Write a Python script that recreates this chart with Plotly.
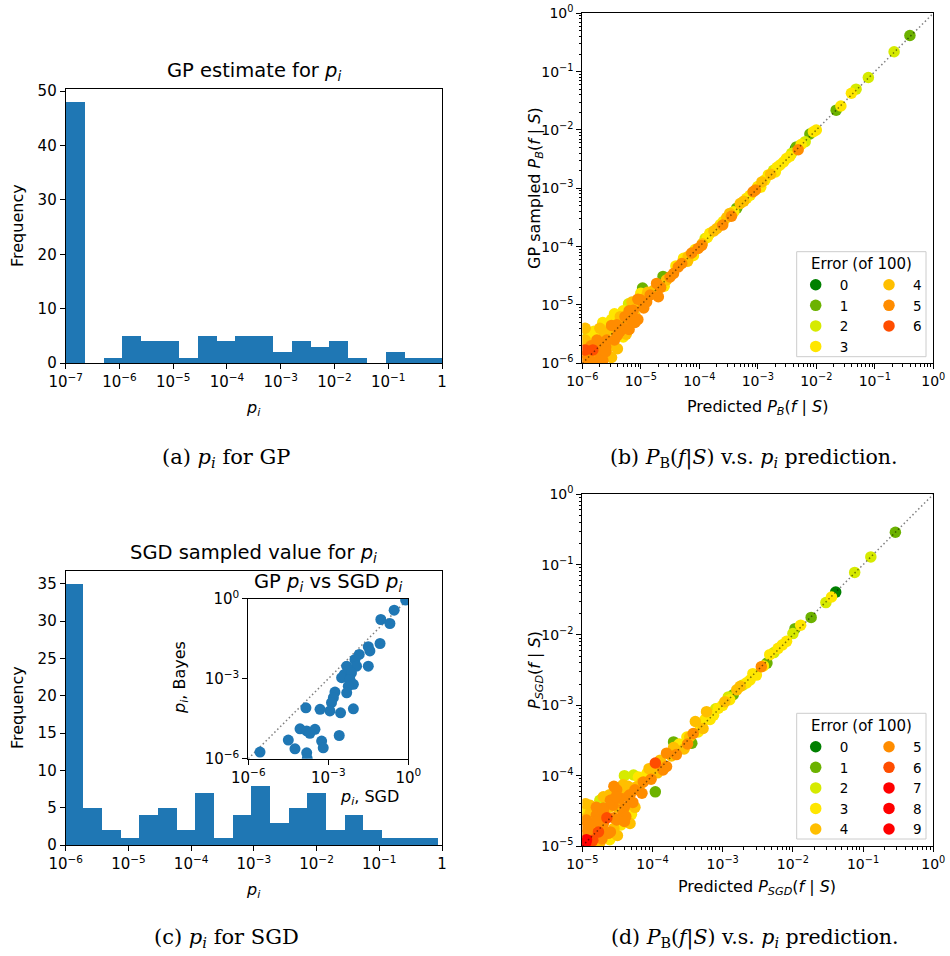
import numpy as np
import plotly.graph_objects as go

W, H = 950, 956

# ---------------- data ----------------
# (a) histogram of GP estimate for p_i (20 log-spaced bins, 1e-7 .. 1)
a_edges_log10 = np.linspace(-7.0, 0.0, 21)
a_counts = [48, 0, 1, 5, 4, 4, 1, 5, 4, 5, 5, 2, 4, 3, 4, 1, 0, 2, 1, 1]

# (c) histogram of SGD sampled p_i (20 log-spaced bins)
c_edges_log10 = np.linspace(-6.02, -0.07, 21)
c_counts = [35, 5, 2, 1, 4, 5, 2, 7, 1, 4, 8, 3, 5, 7, 2, 4, 2, 1, 1, 1]

# inset: GP p_i vs SGD p_i (log10 values)
inset_sgd_log10 = [-5.56, -0.10, -0.53, -1.03, -0.69, -1.06, -1.50, -1.44, -1.84, -2.00,
                   -1.94, -1.50, -2.31, -2.40, -2.13, -2.50, -2.19, -2.06, -2.25, -2.31,
                   -2.75, -2.81, -2.88, -2.94, -3.31, -3.84, -2.54, -2.06, -4.06, -3.81,
                   -3.50, -3.69, -3.25, -3.19, -2.59, -4.50, -4.25, -3.81, -3.79]
inset_bayes_log10 = [-5.75, -0.05, -0.43, -0.78, -0.93, -1.68, -1.80, -1.96, -2.09, -2.28,
                     -2.53, -2.53, -2.53, -2.84, -2.78, -2.96, -3.03, -3.21, -3.28, -3.53,
                     -3.50, -3.71, -3.90, -4.21, -4.15, -4.09, -4.28, -4.13, -4.88, -4.96,
                     -4.90, -5.05, -5.34, -5.59, -5.13, -5.30, -5.63, -5.78, -6.00]

# (b) GP sampled P_B vs predicted (log10) with error counts
b_pred_log10 = [-0.40, -0.67, -1.11, -1.32, -1.40, -1.66, -1.58, -2.05, -2.11, -2.19,
                -2.34, -2.36, -2.31, -2.51, -2.62, -2.73, -2.82, -2.93, -3.08, -3.19,
                -3.36, -3.30, -3.48, -3.59, -3.70, -3.82, -3.90, -4.02, -4.13, -4.27,
                -4.30, -4.44, -4.56, -4.62, -4.70, -4.73, -4.97, -4.84, -5.01, -5.21,
                -5.13, -5.27, -5.36, -5.41, -5.53, -5.64, -5.75, -5.90, -5.95, -5.82,
                -5.70, -5.87, -5.98, -5.53, -5.36, -5.45, -5.60, -5.25, -5.10, -4.95,
                -5.70, -5.50, -5.62, -5.80, -5.95, -4.60, -4.10, -3.95, -3.60, -2.95,
                -2.70, -2.45, -4.88,
                -2.00, -2.26, -2.42, -2.56, -2.67, -2.78, -2.88, -3.00, -3.04, -3.13,
                -3.24, -3.41, -3.53, -3.64, -3.75, -3.86, -3.96, -4.07, -4.19, -4.36,
                -4.50, -4.66, -4.78, -4.90, -5.05, -5.18, -5.30, -5.40, -5.47, -5.58,
                -5.70, -5.75, -5.85, -5.92, -5.80, -5.65, -5.40, -5.30, -5.20, -5.05,
                -5.00, -5.15, -5.30, -5.50, -5.70, -5.85, -5.95, -4.40, -4.20, -3.45,
                -5.50, -5.35, -5.20, -5.05, -4.90, -5.65, -5.45, -5.60, -5.25, -5.10]
b_samp_log10 = [-0.38, -0.66, -1.10, -1.30, -1.37, -1.66, -1.59, -2.03, -2.07, -2.20,
                -2.29, -2.33, -2.34, -2.49, -2.60, -2.69, -2.77, -2.89, -3.06, -3.17,
                -3.34, -3.26, -3.43, -3.57, -3.69, -3.77, -3.86, -4.03, -4.11, -4.20,
                -4.29, -4.46, -4.57, -4.51, -4.86, -4.63, -4.71, -4.83, -4.91, -4.98,
                -5.09, -5.20, -5.26, -5.34, -5.43, -5.51, -5.60, -5.51, -5.77, -5.77,
                -5.83, -5.94, -5.97, -5.71, -5.46, -5.60, -5.72, -5.35, -5.18, -5.05,
                -5.95, -5.90, -5.48, -5.45, -5.60, -4.68, -4.15, -3.95, -3.63, -2.98,
                -2.72, -2.45, -4.78,
                -2.00, -2.25, -2.40, -2.55, -2.64, -2.76, -2.86, -2.97, -3.03, -3.12,
                -3.22, -3.40, -3.50, -3.62, -3.73, -3.84, -3.98, -4.05, -4.17, -4.35,
                -4.52, -4.70, -4.75, -4.95, -5.00, -5.25, -5.40, -5.52, -5.38, -5.60,
                -5.68, -5.85, -5.70, -5.85, -5.98, -5.95, -5.75, -5.55, -5.42, -5.25,
                -4.80, -4.95, -5.10, -5.25, -5.40, -5.55, -5.40, -4.33, -4.25, -3.48,
                -5.35, -5.20, -5.10, -4.90, -4.85, -5.30, -5.15, -5.80, -5.50, -5.30]
b_err = [1, 2, 2, 2, 3, 1, 3, 3, 1, 2,
         1, 0, 5, 3, 3, 2, 3, 4, 5, 3,
         1, 4, 4, 3, 4, 3, 2, 5, 5, 3,
         5, 5, 4, 1, 5, 5, 1, 5, 5, 2,
         5, 5, 3, 5, 4, 3, 5, 2, 6, 6,
         5, 5, 5, 4, 5, 5, 5, 4, 4, 5,
         3, 4, 4, 3, 4, 3, 3, 4, 5, 3,
         3, 3, 4,
         3, 3, 2, 3, 3, 4, 3, 3, 5, 3,
         4, 3, 4, 3, 4, 3, 5, 3, 4, 5,
         5, 5, 4, 5, 4, 5, 5, 5, 3, 5,
         5, 4, 5, 5, 5, 5, 4, 3, 5, 5,
         3, 4, 3, 3, 4, 3, 4, 3, 4, 5,
         5, 4, 5, 5, 4, 3, 3, 5, 4, 5]

# (d) SGD P vs predicted (log10) with error counts
d_pred_log10 = [-0.54, -0.89, -1.12, -1.39, -1.45, -1.53, -1.74, -1.89, -1.97, -2.00,
                -2.09, -2.21, -2.33, -2.37, -2.45, -2.52, -2.61, -2.71, -2.80, -2.85,
                -2.92, -2.97, -3.06, -3.23, -3.13, -3.39, -3.32, -3.42, -3.44, -3.51,
                -3.70, -3.58, -3.80, -3.89, -3.96, -3.80, -3.99, -4.08, -4.27, -3.96,
                -4.13, -4.23, -4.42, -4.32, -4.46, -4.61, -4.56, -4.75, -4.70, -4.80,
                -4.77, -4.89, -4.94, -4.94, -4.96, -4.63, -4.51, -4.42, -4.32, -4.61,
                -4.70, -4.84, -4.65, -4.51, -4.89, -4.95, -4.97,
                -2.15, -2.27, -2.42, -2.57, -2.66, -2.75, -2.90, -3.00, -3.10, -3.18,
                -3.28, -3.35, -3.47, -3.55, -3.62, -3.66, -3.73, -3.85, -3.93, -4.02,
                -4.05, -4.15, -4.20, -4.28, -4.35, -4.40, -4.50, -4.55, -4.60, -4.68,
                -4.72, -4.80, -4.85, -4.90, -4.98, -4.88, -4.75, -4.55, -4.45, -4.38,
                -4.25, -4.95, -4.98, -4.80, -4.70, -4.55, -4.40, -4.65, -4.85,
                -4.90, -4.82, -4.70, -4.62, -4.52, -4.45, -4.35, -4.25, -4.15, -4.60,
                -4.50, -4.40, -4.30, -4.72, -4.95, -3.70, -3.50, -3.25]
d_sgd_log10 = [-0.54, -0.89, -1.11, -1.39, -1.46, -1.54, -1.75, -1.86, -1.91, -1.98,
               -2.09, -2.19, -2.28, -2.40, -2.45, -2.57, -2.64, -2.71, -2.78, -2.85,
               -2.88, -2.95, -3.04, -3.09, -3.14, -3.23, -3.28, -3.40, -3.54, -3.45,
               -3.52, -3.59, -3.68, -3.78, -3.82, -3.87, -3.92, -3.97, -3.99, -4.23,
               -4.09, -4.16, -4.13, -4.27, -4.32, -4.27, -4.42, -4.35, -4.46, -4.56,
               -4.80, -4.54, -4.63, -4.91, -4.73, -4.82, -4.63, -4.54, -4.68, -4.91,
               -4.68, -4.87, -4.46, -4.20, -4.42, -4.95, -4.97,
               -2.14, -2.25, -2.44, -2.55, -2.68, -2.73, -2.92, -3.00, -3.05, -3.20,
               -3.33, -3.38, -3.45, -3.62, -3.55, -3.70, -3.72, -3.92, -3.96, -4.05,
               -3.90, -4.25, -4.02, -4.38, -4.15, -4.45, -4.45, -4.60, -4.35, -4.55,
               -4.72, -4.65, -4.75, -4.80, -4.85, -4.98, -4.95, -4.75, -4.70, -4.58,
               -4.45, -4.50, -4.62, -4.45, -4.30, -4.15, -4.00, -4.60, -4.92,
               -4.70, -4.60, -4.50, -4.45, -4.30, -4.25, -4.30, -4.20, -4.10, -4.80,
               -4.85, -4.65, -4.55, -4.90, -4.40, -3.60, -3.55, -3.20]
d_err = [1, 2, 2, 0, 3, 2, 1, 3, 1, 2,
         3, 3, 3, 1, 5, 3, 3, 2, 4, 1,
         2, 4, 3, 4, 3, 4, 3, 5, 1, 3,
         1, 3, 5, 4, 6, 5, 4, 3, 2, 1,
         5, 4, 4, 5, 5, 4, 5, 2, 5, 5,
         6, 4, 5, 7, 5, 5, 5, 5, 4, 3,
         5, 5, 4, 5, 4, 8, 9,
         3, 2, 3, 3, 3, 4, 3, 3, 2, 3,
         4, 3, 4, 4, 3, 5, 4, 5, 4, 5,
         4, 5, 3, 5, 4, 5, 4, 5, 5, 4,
         5, 5, 4, 5, 5, 5, 4, 4, 3, 5,
         4, 3, 4, 5, 4, 5, 2, 6, 6,
         5, 4, 5, 4, 5, 4, 5, 5, 4, 5,
         4, 5, 3, 5, 4, 4, 5, 3]

err_colors = ['#008000', '#6cb200', '#d6ea00', '#ffe600', '#ffbf00',
              '#ff8c00', '#ff4d00', '#ff0000', '#ff0000', '#ff0000']

# ---------------- helpers ----------------
def fx(px):
    return px / W


def fy(py):
    return 1 - py / H


SANS = 'DejaVu Sans'
SERIF = 'DejaVu Serif'
BLUE = '#1f77b4'
DIAG = dict(color='rgba(0,0,0,0.5)', dash='1.5px,2.6px', width=1.5)

fig = go.Figure()

# (a) histogram
a_centers = (a_edges_log10[:-1] + a_edges_log10[1:]) / 2
fig.add_trace(go.Bar(x=a_centers, y=a_counts, width=np.diff(a_edges_log10),
                     marker=dict(color=BLUE, line=dict(width=0)),
                     showlegend=False, xaxis='x', yaxis='y'))

# (c) histogram
c_centers = (c_edges_log10[:-1] + c_edges_log10[1:]) / 2
fig.add_trace(go.Bar(x=c_centers, y=c_counts, width=np.diff(c_edges_log10),
                     marker=dict(color=BLUE, line=dict(width=0)),
                     showlegend=False, xaxis='x3', yaxis='y3'))

# inset scatter
fig.add_trace(go.Scatter(x=[1e-6, 1], y=[1e-6, 1], mode='lines', line=DIAG,
                         showlegend=False, xaxis='x5', yaxis='y5', hoverinfo='skip'))
fig.add_trace(go.Scatter(x=10 ** np.array(inset_sgd_log10), y=10 ** np.array(inset_bayes_log10),
                         mode='markers', marker=dict(color=BLUE, size=11, line=dict(width=0)),
                         showlegend=False, xaxis='x5', yaxis='y5'))


def add_err_scatter(pred, meas, errs, xa, ya, nerr, split, leg_a, leg_b):
    pred = np.array(pred)
    meas = np.array(meas)
    errs = np.array(errs)
    for e in range(nerr):
        m = errs == e
        fig.add_trace(go.Scatter(
            x=10 ** pred[m], y=10 ** meas[m], mode='markers', name=str(e),
            marker=dict(color=err_colors[e], size=11.5, line=dict(width=0)),
            legend=leg_a if e <= split else leg_b, xaxis=xa, yaxis=ya))


add_err_scatter(b_pred_log10, b_samp_log10, b_err, 'x2', 'y2', 7, 3, 'legend', 'legend2')
fig.add_trace(go.Scatter(x=[1e-6, 1], y=[1e-6, 1], mode='lines', line=DIAG,
                         showlegend=False, xaxis='x2', yaxis='y2', hoverinfo='skip'))

add_err_scatter(d_pred_log10, d_sgd_log10, d_err, 'x4', 'y4', 10, 4, 'legend3', 'legend4')
fig.add_trace(go.Scatter(x=[1e-5, 1], y=[1e-5, 1], mode='lines', line=DIAG,
                         showlegend=False, xaxis='x4', yaxis='y4', hoverinfo='skip'))


# ---------------- axes ----------------
def sup(e):
    return '10<sup>' + ('\u2212' + str(-e) if e < 0 else str(e)) + '</sup>'


def base_axis(domain, anchor, size=15, **kw):
    d = dict(domain=domain, anchor=anchor, showline=True, mirror=True, linecolor='black',
             linewidth=1, ticks='outside', ticklen=5, tickwidth=1, tickcolor='black',
             showgrid=False, zeroline=False, automargin=False,
             tickfont=dict(family=SANS, size=size, color='black'))
    d.update(kw)
    return d


def minor_vals(lo, hi):
    return [k * 10.0 ** d for d in range(lo, hi) for k in range(2, 10)]


xa_dom = [fx(65.7), fx(442)]
xb_dom = [fx(582.3), fx(933.3)]
MINOR = dict(ticks='outside', ticklen=2.5, tickcolor='black')

layout_axes = dict(
    xaxis=base_axis(xa_dom, 'y', range=[-7, 0], tickvals=list(range(-7, 1)),
                    ticktext=[sup(e) for e in range(-7, 0)] + ['1']),
    yaxis=base_axis([fy(363), fy(89)], 'x', range=[0, 50.4], tickvals=[0, 10, 20, 30, 40, 50]),
    xaxis2=base_axis(xb_dom, 'y2', size=14, type='log', range=[-6, 0],
                     tickvals=[10.0 ** e for e in range(-6, 1)], ticktext=[sup(e) for e in range(-6, 1)],
                     minor=dict(tickvals=minor_vals(-6, 0), **MINOR)),
    yaxis2=base_axis([fy(363.3), fy(13.3)], 'x2', size=14, type='log', range=[-6, 0],
                     tickvals=[10.0 ** e for e in range(-6, 1)], ticktext=[sup(e) for e in range(-6, 1)],
                     minor=dict(tickvals=minor_vals(-6, 0), **MINOR)),
    xaxis3=base_axis(xa_dom, 'y3', range=[-6, 0], tickvals=list(range(-6, 1)),
                     ticktext=[sup(e) for e in range(-6, 0)] + ['1']),
    yaxis3=base_axis([fy(845), fy(570.7)], 'x3', range=[0, 36.75],
                     tickvals=[0, 5, 10, 15, 20, 25, 30, 35]),
    xaxis4=base_axis(xb_dom, 'y4', size=14, type='log', range=[-5, 0],
                     tickvals=[10.0 ** e for e in range(-5, 1)], ticktext=[sup(e) for e in range(-5, 1)],
                     minor=dict(tickvals=minor_vals(-5, 0), **MINOR)),
    yaxis4=base_axis([fy(846), fy(494.3)], 'x4', size=14, type='log', range=[-5, 0],
                     tickvals=[10.0 ** e for e in range(-5, 1)], ticktext=[sup(e) for e in range(-5, 1)],
                     minor=dict(tickvals=minor_vals(-5, 0), **MINOR)),
    xaxis5=base_axis([fx(248.3), fx(408.3)], 'y5', type='log', range=[-6, 0],
                     tickvals=[1e-6, 1e-3, 1], ticktext=[sup(-6), sup(-3), sup(0)]),
    yaxis5=base_axis([fy(758.7), fy(598.7)], 'x5', type='log', range=[-6, 0],
                     tickvals=[1e-6, 1e-3, 1], ticktext=[sup(-6), sup(-3), sup(0)]),
)


# ---------------- legends ----------------
def leg(xp, yp):
    return dict(x=fx(xp), y=fy(yp), xanchor='left', yanchor='top', bgcolor='rgba(0,0,0,0)',
                borderwidth=0, font=dict(family=SANS, size=13.5, color='black'),
                itemwidth=38, itemclick=False, itemdoubleclick=False, traceorder='normal')


legends = dict(legend=leg(791.7, 269.5), legend2=leg(865, 269.5),
               legend3=leg(791.7, 731.5), legend4=leg(865, 731.5))

# ---------------- annotations ----------------
ann = []


def text(x, y, s, size=16, family=SANS, angle=0):
    ann.append(dict(x=fx(x), y=fy(y), xref='paper', yref='paper', text=s, showarrow=False,
                    xanchor='center', yanchor='middle', textangle=angle,
                    font=dict(family=family, size=size, color='black')))


PI = '<i>p<sub>i</sub></i>'
text(253.5, 71.7, 'GP estimate for ' + PI, size=19.5)
text(253.5, 408, PI)
text(17, 226, 'Frequency', angle=-90)
text(226, 458, '(a) ' + PI + ' for GP', size=21, family=SERIF)

text(757, 407, 'Predicted <i>P<sub>B</sub></i>(<i>f</i> | <i>S</i>)')
text(535, 188, 'GP sampled <i>P<sub>B</sub></i>(<i>f</i> | <i>S</i>)', angle=-90)
text(754, 458, '(b) <i>P</i><sub>B</sub>(<i>f</i>|<i>S</i>) v.s. ' + PI + ' prediction.', size=20.5, family=SERIF)
text(861, 264, 'Error (of 100)', size=15)

text(253.5, 553, 'SGD sampled value for ' + PI, size=19.5)
text(253.5, 890, PI)
text(17, 708, 'Frequency', angle=-90)
text(328, 582, 'GP ' + PI + ' vs SGD ' + PI, size=19.5)
text(369, 797, PI + ', SGD')
text(180, 678, PI + ', Bayes', angle=-90)
text(226, 938, '(c) ' + PI + ' for SGD', size=21, family=SERIF)

text(757, 887, 'Predicted <i>P<sub>SGD</sub></i>(<i>f</i> | <i>S</i>)')
text(535, 670, '<i>P<sub>SGD</sub></i>(<i>f</i> | <i>S</i>)', angle=-90)
text(755, 938, '(d) <i>P</i><sub>B</sub>(<i>f</i>|<i>S</i>) v.s. ' + PI + ' prediction.', size=20.5, family=SERIF)
text(861, 726, 'Error (of 100)', size=15)

shapes = []
for (y0, y1) in [(251.7, 356.7), (713.3, 839)]:
    shapes.append(dict(type='rect', xref='paper', yref='paper', x0=fx(796.7), x1=fx(926),
                       y0=fy(y1), y1=fy(y0), line=dict(color='#cccccc', width=1),
                       fillcolor='rgba(255,255,255,0.8)', layer='above'))

fig.update_layout(
    width=W, height=H, autosize=False,
    margin=dict(l=0, r=0, t=0, b=0),
    paper_bgcolor='white', plot_bgcolor='white',
    bargap=0, barmode='overlay',
    font=dict(family=SANS, color='black'),
    annotations=ann, shapes=shapes,
    **layout_axes, **legends,
)

fig.write_html('out.html', config={'displayModeBar': False},
               post_script="document.body.style.margin='0';document.body.style.padding='0';")
